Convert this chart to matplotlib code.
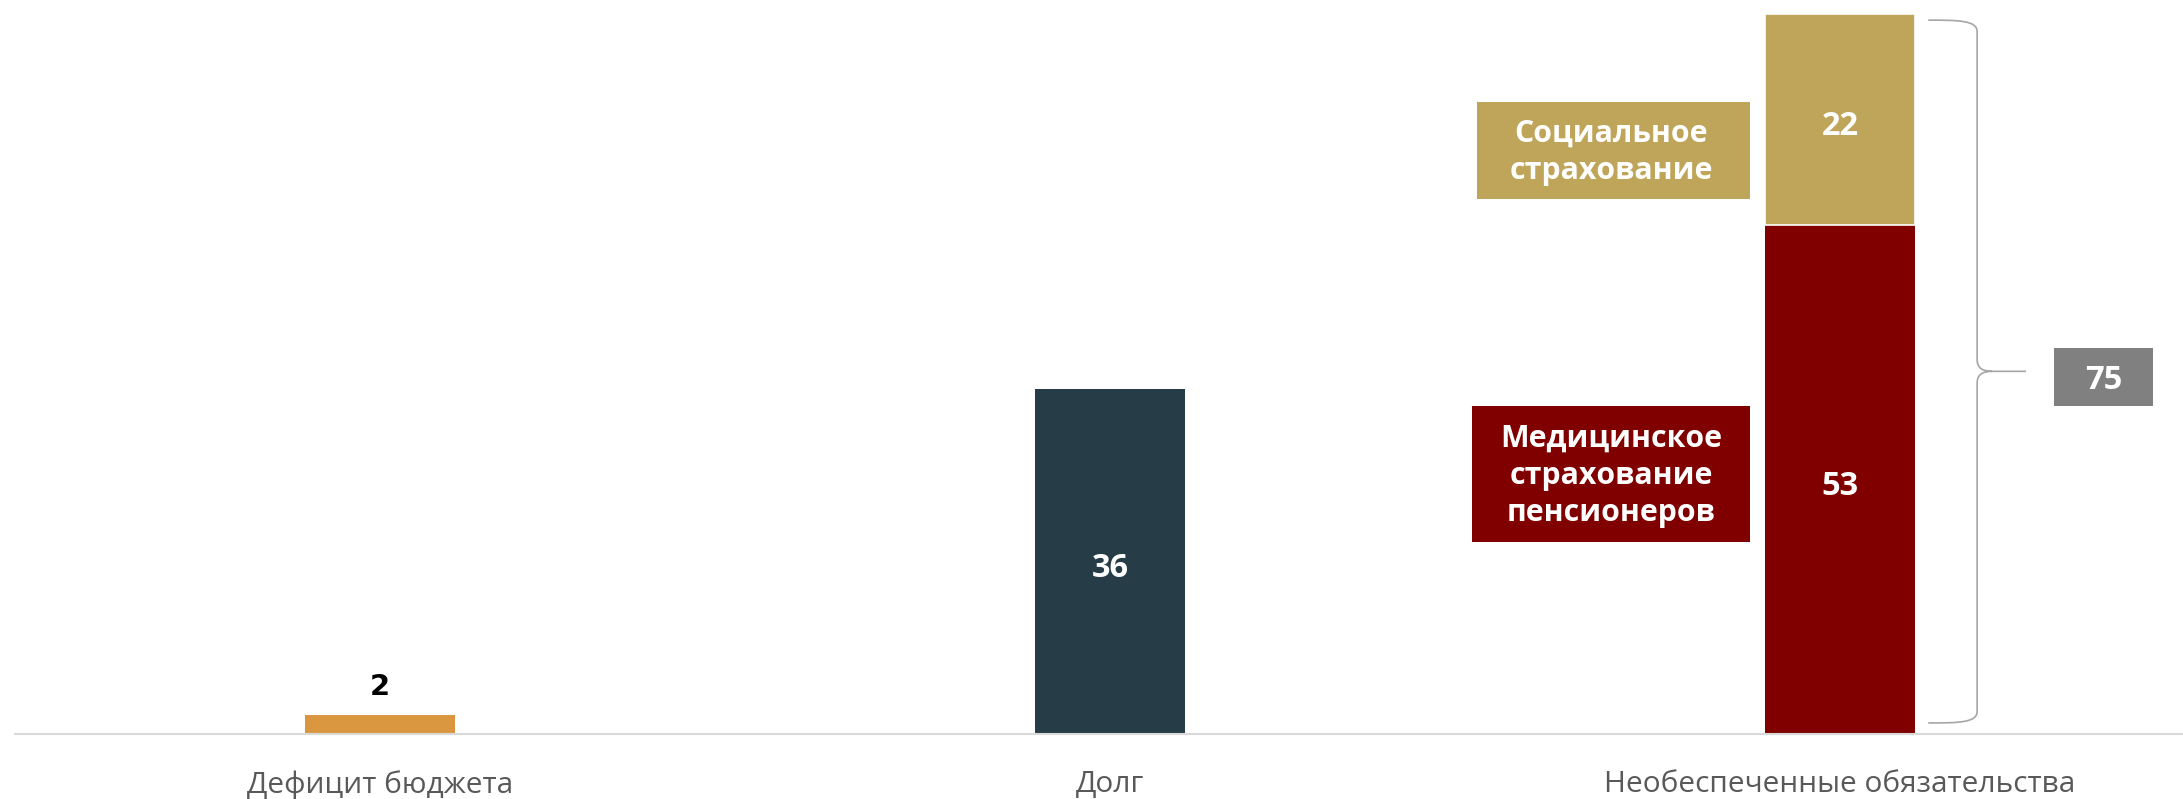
import matplotlib.pyplot as plt
from matplotlib.path import Path
from matplotlib.patches import PathPatch, Rectangle

plt.rcParams['font.family'] = ['Open Sans', 'DejaVu Sans']

# data
categories = ['Дефицит бюджета', 'Долг', 'Необеспеченные обязательства']
deficit = 2
debt = 36
medical = 53
social = 22
total = medical + social
medical_label = 'Медицинское\nстрахование\nпенсионеров'
social_label = 'Социальное\nстрахование'

c_deficit = '#DA973F'
c_debt = '#263D47'
c_medical = '#800000'
c_social = '#BFA55A'
c_total = '#808080'
c_brace = '#A6A6A6'

fig = plt.figure(figsize=(21.83, 7.99), dpi=100)
ax = fig.add_axes([15 / 2183, 65 / 799, 2168 / 2183, 734 / 799])

x = list(range(len(categories)))
w = 0.205
ax.bar(x[0], deficit, width=w, color=c_deficit)
ax.bar(x[1], debt, width=w, color=c_debt)
ax.bar(x[2], medical, width=w, color=c_medical)
ax.bar(x[2], social, width=w, bottom=medical, color=c_social,
       edgecolor='white', linewidth=1.2)

ax.set_xlim(-0.5, 2.47)
ax.set_ylim(0, 76.5)

# value labels
ax.annotate(str(deficit), (x[0], deficit), xytext=(0, 10), textcoords='offset points',
            ha='center', va='bottom', fontsize=21, fontweight='bold', color='black',
            family=['Liberation Sans Narrow', 'DejaVu Sans'])
for yv, v in [(debt / 2, debt), (medical / 2, medical), (medical + social / 2, social)]:
    xi = x[1] if v == debt else x[2]
    ax.text(xi, yv - 0.7, str(v), ha='center', va='center', fontsize=23.5,
            fontweight='bold', color='white')

# side label boxes
bar_left = x[2] - w / 2
for y0, y1, bw, col, txt in [(55.8, 65.9, 0.374, c_social, social_label),
                             (20.0, 34.2, 0.381, c_medical, medical_label)]:
    x1 = bar_left - 0.021
    ax.add_patch(Rectangle((x1 - bw, y0), bw, y1 - y0, color=col, lw=0))
    ax.text(x1 - 0.19, (y0 + y1) / 2 - 0.2, txt, ha='center', va='center', fontsize=21.8,
            fontweight='bold', color='white', linespacing=1.32)

# brace
x0, xv, xt = 2.121, 2.188, 2.255
top, bot = total - 0.6, 1.15
mid = total / 2 + 0.3
ry, rx = 1.2, 0.02
verts = [(x0, top), (x0 + 0.6 * (xv - x0), top), (xv, top), (xv, top - ry),
         (xv, mid + ry),
         (xv, mid), (xv + rx, mid),
         (xt, mid),
         (xv + rx, mid),
         (xv, mid), (xv, mid - ry),
         (xv, bot + ry),
         (xv, bot), (x0 + 0.6 * (xv - x0), bot), (x0, bot)]
codes = [Path.MOVETO, Path.CURVE4, Path.CURVE4, Path.CURVE4,
         Path.LINETO,
         Path.CURVE3, Path.CURVE3,
         Path.LINETO,
         Path.MOVETO,
         Path.CURVE3, Path.CURVE3,
         Path.LINETO,
         Path.CURVE4, Path.CURVE4, Path.CURVE4]
ax.add_patch(PathPatch(Path(verts, codes), facecolor='none', edgecolor=c_brace, lw=1.2))

# total box
ax.add_patch(Rectangle((2.293, 34.2), 0.136, 6.0, color=c_total, lw=0))
ax.text(2.361, 36.8, str(total), ha='center', va='center', fontsize=23.5,
        fontweight='bold', color='white')

# axes styling
ax.set_xticks(x)
ax.set_xticklabels(categories, fontsize=21.5, color='#595959')
ax.tick_params(axis='x', length=0, pad=26)
ax.set_yticks([])
for s in ['top', 'right', 'left']:
    ax.spines[s].set_visible(False)
ax.spines['bottom'].set_color('#D9D9D9')
ax.spines['bottom'].set_linewidth(1.5)

fig.savefig('out.png', dpi=100)
